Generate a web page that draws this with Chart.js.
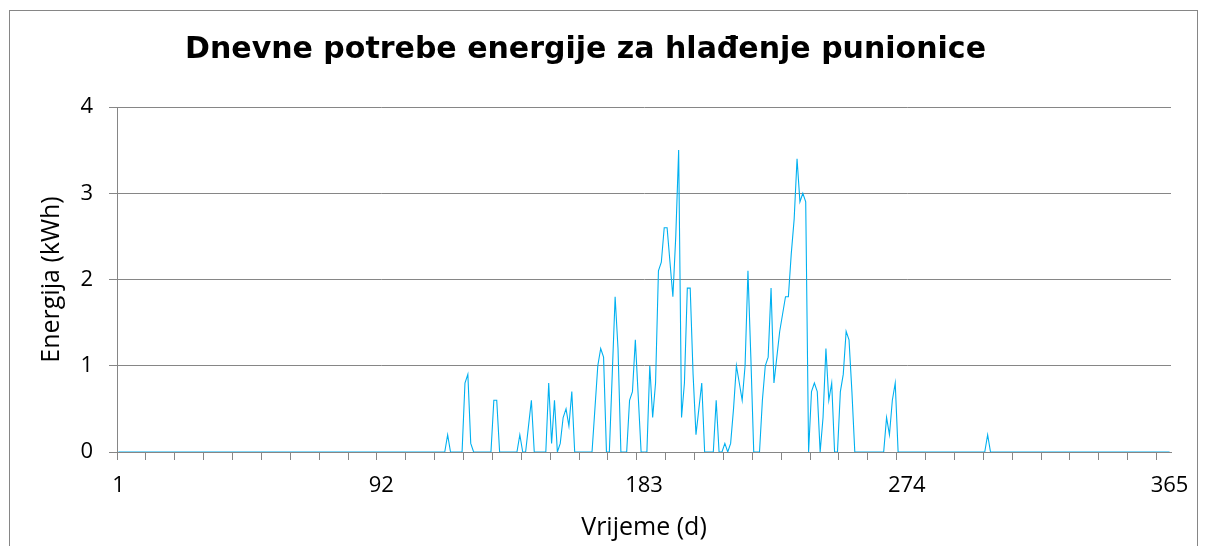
<!DOCTYPE html>
<html>
<head>
<meta charset="utf-8">
<script src="https://cdn.jsdelivr.net/npm/chart.js@4.4.1/dist/chart.umd.min.js"></script>
<style>
  html, body { margin: 0; padding: 0; background: #ffffff; }
  canvas { display: block; }
</style>
</head>
<body>
<canvas id="c" width="1206" height="546"></canvas>
<script>
// ---- data ----
const chartTitle = 'Dnevne potrebe energije za hlađenje punionice';
const xAxisTitle = 'Vrijeme (d)';
const yAxisTitle = 'Energija (kWh)';
const xTickLabels = ['1', '92', '183', '274', '365'];
const yTicks = [0, 1, 2, 3, 4];

// day numbers 1..365 (category labels)
const days = [];
for (let d = 1; d <= 365; d++) days.push(String(d));

// daily cooling energy (kWh), one value per day, rows of 10 days
const energy = [
  0,0,0,0,0,0,0,0,0,0,          // 1-10
  0,0,0,0,0,0,0,0,0,0,          // 11-20
  0,0,0,0,0,0,0,0,0,0,          // 21-30
  0,0,0,0,0,0,0,0,0,0,          // 31-40
  0,0,0,0,0,0,0,0,0,0,          // 41-50
  0,0,0,0,0,0,0,0,0,0,          // 51-60
  0,0,0,0,0,0,0,0,0,0,          // 61-70
  0,0,0,0,0,0,0,0,0,0,          // 71-80
  0,0,0,0,0,0,0,0,0,0,          // 81-90
  0,0,0,0,0,0,0,0,0,0,          // 91-100
  0,0,0,0,0,0,0,0,0,0,          // 101-110
  0,0,0,0,0.2,0,0,0,0,0,        // 111-120
  0.8,0.9,0.1,0,0,0,0,0,0,0,    // 121-130
  0.6,0.6,0,0,0,0,0,0,0,0.2,    // 131-140
  0,0,0.3,0.6,0,0,0,0,0,0.8,    // 141-150
  0.1,0.6,0,0.1,0.4,0.5,0.3,0.7,0,0,   // 151-160
  0,0,0,0,0,0.5,1.0,1.2,1.1,0,         // 161-170
  0,0.9,1.8,1.2,0,0,0,0.6,0.7,1.3,     // 171-180
  0.65,0,0,0,1.0,0.4,0.8,2.1,2.2,2.6,  // 181-190
  2.6,2.2,1.8,2.5,3.5,0.4,0.8,1.9,1.9,0.9, // 191-200
  0.2,0.5,0.8,0,0,0,0,0.6,0,0,         // 201-210
  0.1,0,0.1,0.5,1.0,0.8,0.6,1.0,2.1,1.1, // 211-220
  0,0,0,0.6,1.0,1.1,1.9,0.8,1.1,1.4,   // 221-230
  1.6,1.8,1.8,2.3,2.7,3.4,2.9,3.0,2.9,0, // 231-240
  0.7,0.8,0.7,0,0.4,1.2,0.6,0.8,0,0,   // 241-250
  0.7,0.9,1.4,1.3,0.7,0,0,0,0,0,       // 251-260
  0,0,0,0,0,0,0.4,0.2,0.6,0.8,         // 261-270
  0,0,0,0,0,0,0,0,0,0,          // 271-280
  0,0,0,0,0,0,0,0,0,0,          // 281-290
  0,0,0,0,0,0,0,0,0,0,          // 291-300
  0,0.2,0,0,0,0,0,0,0,0,        // 301-310
  0,0,0,0,0,0,0,0,0,0,          // 311-320
  0,0,0,0,0,0,0,0,0,0,          // 321-330
  0,0,0,0,0,0,0,0,0,0,          // 331-340
  0,0,0,0,0,0,0,0,0,0,          // 341-350
  0,0,0,0,0,0,0,0,0,0,          // 351-360
  0,0,0,0,0                     // 361-365
];

// ---- styling ----
const GRID = '#868686';
const LINE = '#00B0F0';
const TEXT_FONT = "'Open Sans', 'Lato', sans-serif";

const frame = {
  id: 'frame',
  beforeDraw(chart) {
    const ctx = chart.ctx;
    ctx.save();
    ctx.fillStyle = '#ffffff';
    ctx.fillRect(0, 0, chart.width, chart.height);
    ctx.strokeStyle = GRID;
    ctx.lineWidth = 1;
    ctx.strokeRect(9.5, 10.5, 1188, 600);
    ctx.restore();
  }
};

new Chart(document.getElementById('c'), {
  type: 'line',
  data: {
    labels: days,
    datasets: [{
      data: energy,
      borderColor: LINE,
      borderWidth: 1.1,
      pointRadius: 0,
      tension: 0,
      fill: false
    }]
  },
  options: {
    responsive: false,
    devicePixelRatio: 1,
    animation: false,
    layout: { padding: { left: 0, right: 35, top: 0, bottom: 0 } },
    plugins: {
      legend: { display: false },
      tooltip: { enabled: false },
      title: {
        display: true,
        text: chartTitle,
        color: '#000000',
        font: { family: 'DejaVu Sans', size: 30, weight: 'bold', lineHeight: 1.2 },
        padding: { top: 32, bottom: 39 }
      }
    },
    scales: {
      x: {
        type: 'category',
        offset: true,
        afterFit(scale) { scale.height = 94; },
        border: { display: true, color: GRID, width: 1 },
        grid: {
          offset: true,
          drawOnChartArea: false,
          drawTicks: true,
          tickLength: 8,
          color: (ctx) => (ctx.index % 10 === 0 && ctx.index < 365) ? GRID : 'rgba(0,0,0,0)'
        },
        ticks: {
          autoSkip: false,
          maxRotation: 0,
          minRotation: 0,
          padding: 13,
          color: '#000000',
          font: { family: TEXT_FONT, size: 22 },
          callback: function (value, index) {
            const lab = days[index];
            return xTickLabels.includes(lab) ? lab : '';
          }
        },
        title: {
          display: true,
          text: xAxisTitle,
          color: '#000000',
          font: { family: TEXT_FONT, size: 25 },
          padding: { top: 0, bottom: 3 }
        }
      },
      y: {
        min: 0,
        max: 4,
        afterFit(scale) { scale.width = 117; },
        afterBuildTicks(scale) { scale.ticks = yTicks.map(v => ({ value: v })); },
        border: { display: true, color: GRID, width: 1 },
        grid: {
          color: GRID,
          lineWidth: 1,
          drawTicks: true,
          tickLength: 8
        },
        ticks: {
          padding: 16,
          color: '#000000',
          font: { family: TEXT_FONT, size: 22 }
        },
        title: {
          display: true,
          text: yAxisTitle,
          color: '#000000',
          font: { family: TEXT_FONT, size: 25 },
          padding: { top: 37, bottom: 0 }
        }
      }
    }
  },
  plugins: [frame]
});
</script>
</body>
</html>
